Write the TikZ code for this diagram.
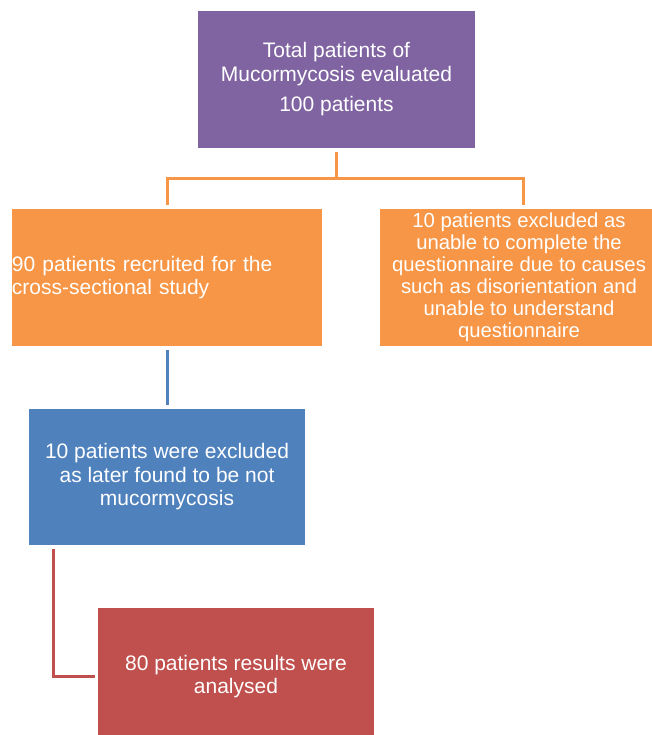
\documentclass[tikz,border=0pt]{standalone}
\usepackage{fontspec}
\setmainfont{Liberation Sans}
\usetikzlibrary{positioning,calc}
\definecolor{mucpurple}{HTML}{8064A2}
\definecolor{mucorange}{HTML}{F79646}
\definecolor{mucblue}{HTML}{4F81BD}
\definecolor{mucred}{HTML}{C0504D}
\tikzset{>=stealth,
  box/.style={minimum height=137pt,inner sep=0pt,text=white,align=center,
    font=\fontsize{21}{23.5}\selectfont},
  link/.style={line width=3pt,shorten <=4pt,shorten >=4pt}}

\begin{document}
\begin{tikzpicture}[x=1pt,y=-1pt]
\useasboundingbox (0,0) rectangle (652,735);
\clip (0,0) rectangle (652,735);
\node[box,fill=mucpurple,minimum width=277pt] (total) at (336.5,79.5)
  {Total patients of\\Mucormycosis evaluated\\[7pt]100 patients};
\node[box,fill=mucorange,text width=310pt,align=left] (recruit) at (167,277.5)
  {90 patients recruited for the\\cross-sectional study};
\node[box,fill=mucorange,minimum width=278pt,font=\fontsize{20.3}{22}\selectfont] (unable) at (519,277.5)
  {10 patients excluded as\\unable to complete the\\questionnaire due to causes\\such as disorientation and\\unable to understand\\questionnaire};
\node[box,fill=mucblue,minimum width=276pt,minimum height=136pt] (notmuc) at (167,477)
  {10 patients were excluded\\as later found to be not\\mucormycosis};
\node[box,fill=mucred,minimum width=276pt] (analysed) at (236,676.5)
  {80 patients results were\\analysed};
\draw[link,mucorange] (total.south) -- ++(0,30) -| (recruit.north);
\draw[link,mucorange] (total.south) -- ++(0,30) -| ([xshift=4pt]unable.north);
\draw[link,mucblue] (recruit.south) -- (notmuc.north);
\draw[link,mucred,shorten >=3pt] ([xshift=25pt]notmuc.south west) |- (analysed.west);
\end{tikzpicture}
\end{document}
